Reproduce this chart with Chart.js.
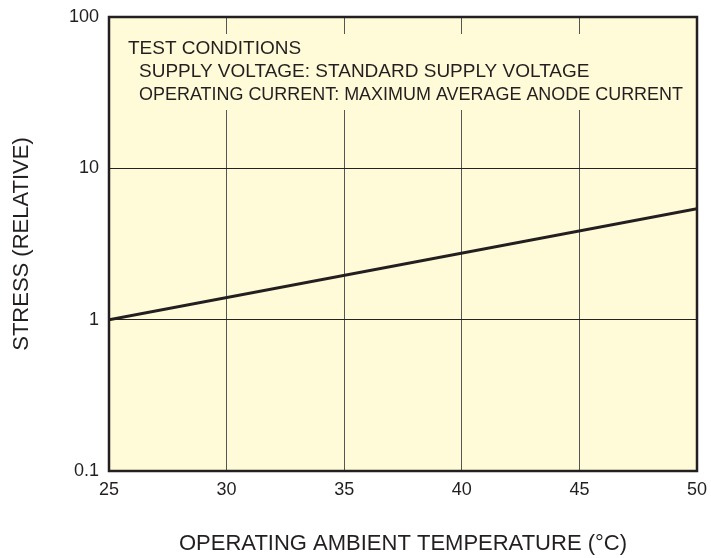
<!DOCTYPE html>
<html>
<head>
<meta charset="utf-8">
<script src="https://cdn.jsdelivr.net/npm/chart.js@4/dist/chart.umd.min.js"></script>
<style>
  html, body { margin: 0; padding: 0; background: #fff; }
  #wrap { width: 711px; height: 558px; }
</style>
</head>
<body>
<div id="wrap"><canvas id="myChart"></canvas></div>
<script>
// temperature (°C) vs relative stress, straight line on a log axis
const temps = [25, 50];
const stress = [1, 5.4];
const yTicks = [0.1, 1, 10, 100];
const notes = [
  'TEST CONDITIONS',
  'SUPPLY VOLTAGE: STANDARD SUPPLY VOLTAGE',
  'OPERATING CURRENT: MAXIMUM AVERAGE ANODE CURRENT'
];

const ink = '#231f20';
const family = '"Liberation Sans", Arial, sans-serif';
const tickFont = { family, size: 18 };
const titleFont = { family, size: 22 };

// pale yellow plot area, the note box and the heavy frame
const panel = {
  id: 'panel',
  beforeDraw(chart) {
    const { ctx, chartArea: a } = chart;
    ctx.save();
    ctx.fillStyle = '#fffbd8';
    ctx.fillRect(a.left, a.top, a.right - a.left, a.bottom - a.top);
    ctx.restore();
  },
  beforeDatasetsDraw(chart) {
    const { ctx, chartArea: a } = chart;
    ctx.save();
    ctx.fillStyle = '#fffbd8';
    ctx.fillRect(a.left + 1, 34, a.right - a.left - 8, 76);
    ctx.fillStyle = ink;
    ctx.font = '19px ' + family;
    ctx.textBaseline = 'alphabetic';
    ctx.fillText(notes[0], 128, 54);
    ctx.fillText(notes[1], 139, 77);
    ctx.fillText(notes[2], 139, 100, 544);
    ctx.restore();
  },
  afterDatasetsDraw(chart) {
    const { ctx, chartArea: a } = chart;
    ctx.save();
    ctx.strokeStyle = ink;
    ctx.lineWidth = 2.5;
    ctx.strokeRect(a.left, a.top, a.right - a.left, a.bottom - a.top);
    ctx.restore();
  }
};

new Chart(document.getElementById('myChart'), {
  type: 'line',
  data: {
    labels: temps,
    datasets: [{
      data: temps.map((t, i) => ({ x: t, y: stress[i] })),
      borderColor: ink,
      borderWidth: 3,
      pointRadius: 0,
      fill: false
    }]
  },
  options: {
    responsive: true,
    maintainAspectRatio: false,
    animation: false,
    layout: { padding: { top: 17, right: 14, left: 0, bottom: 0 } },
    plugins: { legend: { display: false }, tooltip: { enabled: false } },
    scales: {
      x: {
        type: 'linear',
        min: 25,
        max: 50,
        afterFit(scale) {
          scale.height = 87;
          scale.paddingLeft = 0;
          scale.paddingRight = 0;
        },
        ticks: { stepSize: 5, color: ink, font: tickFont, padding: 8, maxRotation: 0 },
        grid: { color: '#555', lineWidth: 1, drawTicks: false },
        border: { display: false },
        title: {
          display: true,
          text: 'OPERATING AMBIENT TEMPERATURE (°C)',
          color: ink,
          font: titleFont,
          padding: { top: 0, bottom: 1 }
        }
      },
      y: {
        type: 'logarithmic',
        min: 0.1,
        max: 100,
        afterFit(scale) {
          scale.width = 109;
          scale.paddingTop = 0;
          scale.paddingBottom = 0;
        },
        afterBuildTicks(scale) { scale.ticks = yTicks.map(v => ({ value: v })); },
        ticks: {
          color: ink,
          font: tickFont,
          padding: 10,
          callback: v => String(v)
        },
        grid: { color: '#222', lineWidth: 1, drawTicks: false },
        border: { display: false },
        title: {
          display: true,
          text: 'STRESS (RELATIVE)',
          color: ink,
          font: titleFont,
          padding: { top: 9, bottom: 0 }
        }
      }
    }
  },
  plugins: [panel]
});
</script>
</body>
</html>
